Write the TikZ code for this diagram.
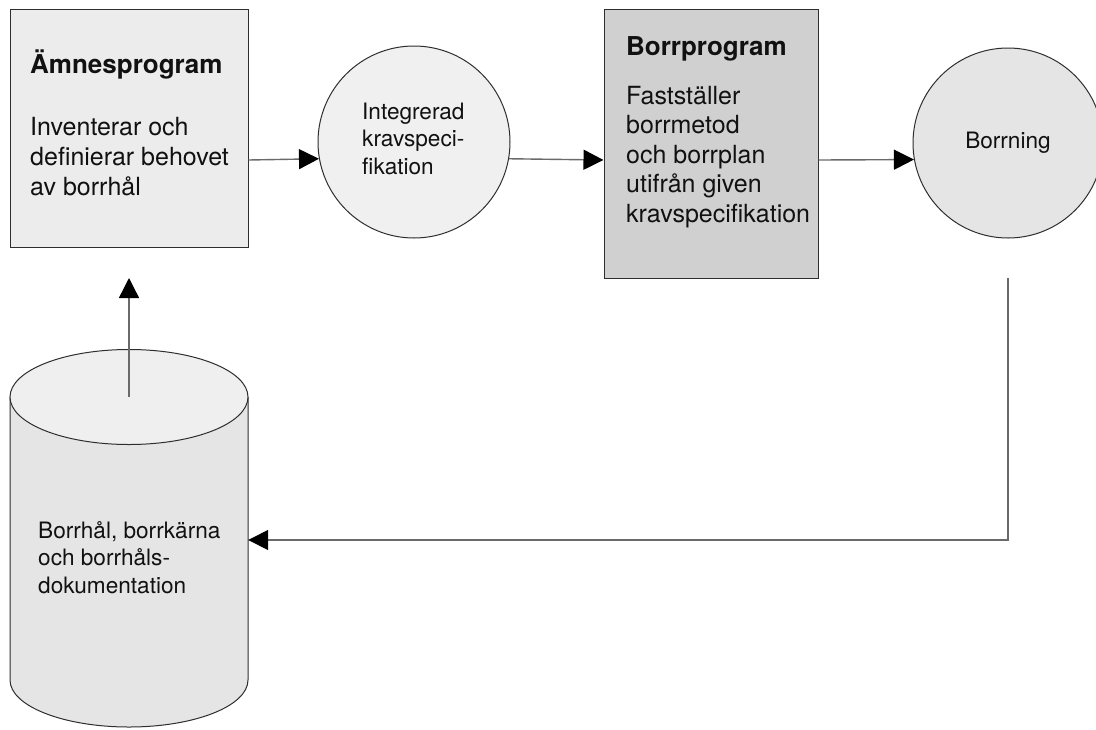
\documentclass[tikz,border=0pt]{standalone}
\usepackage{fontspec}
\setmainfont{TeX Gyre Heros}
\usetikzlibrary{arrows.meta,calc}

\definecolor{outline}{HTML}{2E2E2E}
\definecolor{linegray}{HTML}{6A6A6A}
\definecolor{boxlight}{HTML}{ECECEC}
\definecolor{boxdark}{HTML}{D0D0D0}
\definecolor{circlight}{HTML}{F0F0F0}
\definecolor{circmid}{HTML}{E5E5E5}
\definecolor{cyltop}{HTML}{EFEFEF}
\definecolor{cylbody}{HTML}{E5E5E5}
\definecolor{ink}{HTML}{111111}

\tikzset{
  blockbox/.style={draw=outline, line width=1pt, inner sep=0pt, rectangle},
  roundnode/.style={draw=outline, line width=1pt, inner sep=0pt, circle},
  titletext/.style={inner sep=0pt, anchor=base west, text=ink,
    font=\fontsize{26}{30}\selectfont\bfseries},
  % multi-line text: the base anchor sits on the last line
  bodytext/.style={inner sep=0pt, anchor=base west, align=left, text=ink,
    font=\fontsize{25}{30.3}\selectfont},
  smalltext/.style={inner sep=0pt, align=left, text=ink,
    font=\fontsize{22.6}{27.5}\selectfont},
  flow/.style={draw=linegray, line width=1.4pt,
    -{Triangle[length=20pt,width=20pt,color=black]}},
}

\begin{document}
\begin{tikzpicture}[x=1pt,y=-1pt]
  \useasboundingbox (0,0) rectangle (1096,729);

  % process boxes
  \node[blockbox, fill=boxlight, minimum width=238pt, minimum height=238pt]
    (amne) at (129,128) {};
  \node[blockbox, fill=boxdark, minimum width=214pt, minimum height=269pt]
    (borrp) at (711,143.5) {};

  % round steps
  \node[roundnode, fill=circlight, minimum size=192pt] (krav) at (414,142) {};
  \node[roundnode, fill=circmid, minimum size=190pt] (borr) at (1008,143) {};

  % archive cylinder
  \node[inner sep=0pt, minimum width=238pt, minimum height=380pt] (cyl) at (129,540) {};
  \fill[cylbody] (10,397) -- (10,680)
    arc[start angle=180, end angle=0, x radius=119, y radius=47] -- (248,397) -- cycle;
  \draw[outline, line width=1pt] (10,397) -- (10,680)
    arc[start angle=180, end angle=0, x radius=119, y radius=47] -- (248,397);
  \draw[outline, line width=1pt, fill=cyltop] (129,397) ellipse[x radius=119, y radius=47.5];

  % texts
  \node[titletext] (amnetitle) at (30,73) {Ämnesprogram};
  \node[bodytext] (amnebody) at (30,195.6) {Inventerar och\\definierar behovet\\av borrhål};
  \node[titletext] (borrptitle) at (626,55) {Borrprogram};
  \node[bodytext, font=\fontsize{25}{29.5}\selectfont] (borrpbody) at (626,222)
    {Fastställer\\borrmetod\\och borrplan\\utifrån given\\kravspecifikation};
  \node[smalltext, anchor=base west] (kravtext) at (362,174) {Integrerad\\kravspeci-\\fikation};
  \node[smalltext, anchor=base] (borrtext) at (1008,148) {Borrning};
  \node[smalltext, anchor=base west] (cyltext) at (38,593)
    {Borrhål, borrkärna\\och borrhåls-\\dokumentation};

  % connectors
  \coordinate (cylsrc) at (129,397);
  \coordinate (amnein) at (129,278);
  \coordinate (borrout) at (1008,278);

  \draw[flow] ([yshift=-32pt]amne.east) -- (krav.190.8);
  \draw[flow] (krav.-10.8) -- ([yshift=-16.5pt]borrp.west);
  \draw[flow] ([yshift=-16.5pt]borrp.east) -- (borr.190.3);
  \draw[flow] (borrout) |- (cyl.east);
  \draw[flow] (cylsrc) -- (amnein);
\end{tikzpicture}
\end{document}
